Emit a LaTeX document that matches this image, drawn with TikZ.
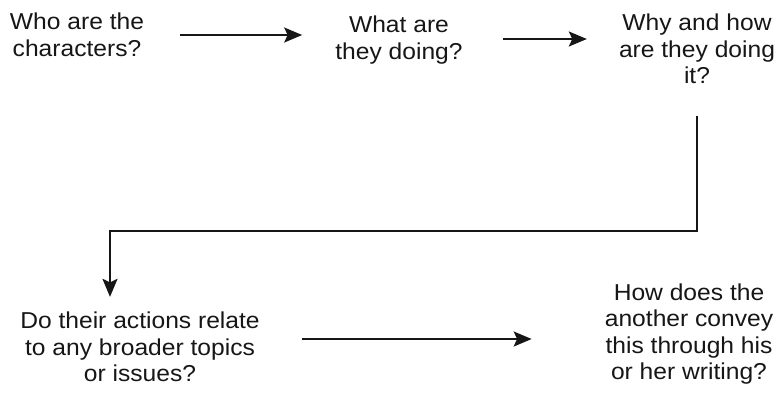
\documentclass[tikz,border=0pt]{standalone}
\usepackage{fontspec}
\setmainfont{Liberation Sans}[FakeStretch=1.07]
\usetikzlibrary{arrows.meta}
\definecolor{ink}{HTML}{161616}

\begin{document}
\begin{tikzpicture}[x=1pt,y=-1pt,
    question/.style={align=center,text=ink,inner sep=0pt,
      font=\fontsize{23}{26.5}\selectfont},
    flow/.style={draw=ink,line width=2pt,
      -{Stealth[length=18pt,width=15pt,inset=3.5pt]}}]
    \useasboundingbox (0,0) rectangle (778,392);
    % top row
    \node[question] (who) at (77,35) {Who are the\\characters?};
    \node[question] (what) at (399,40) {What are\\they doing?};
    \node[question] (why) at (697,49) {Why and how\\are they doing\\it?};
    % bottom row
    \node[question] (topics) at (140,347) {Do their actions relate\\to any broader topics\\or issues?};
    \node[question] (writing) at (689,334) {How does the\\another convey\\this through his\\or her writing?};
    \draw[flow,shorten <=36pt,shorten >=33pt] (who.east) -- (who.east -| what.west);
    \draw[flow,shorten <=40pt,shorten >=32pt] ([yshift=1pt]what.east) -- ([yshift=1pt]what.east -| why.west);
    \draw[flow] ([yshift=-32pt]why.south) -- ++(0,115)
      -| ([xshift=-30pt,yshift=15pt]topics.north);
    \draw[flow,shorten <=42pt,shorten >=73pt]
      ([yshift=8pt]topics.east) -- ([yshift=8pt]topics.east -| writing.west);
\end{tikzpicture}
\end{document}
